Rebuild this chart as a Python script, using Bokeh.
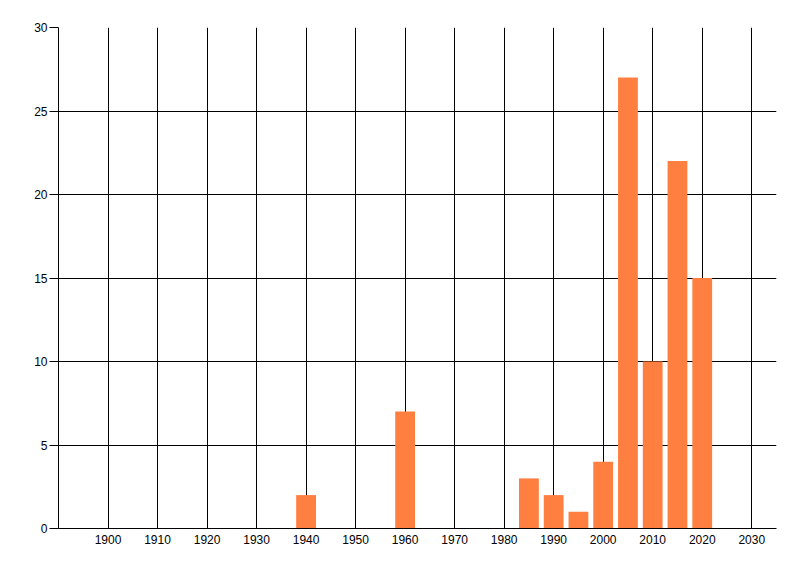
from bokeh.plotting import figure
from bokeh.models import FixedTicker, Range1d
from bokeh.embed import file_html
from bokeh.resources import INLINE

# data
years = [1940, 1960, 1985, 1990, 1995, 2000, 2005, 2010, 2015, 2020]
counts = [2, 7, 3, 2, 1, 4, 27, 10, 22, 15]
x_ticks = [1900, 1910, 1920, 1930, 1940, 1950, 1960, 1970, 1980, 1990, 2000, 2010, 2020, 2030]
y_ticks = [0, 5, 10, 15, 20, 25, 30]

p = figure(width=784, height=560, output_backend="svg", toolbar_location=None,
           x_range=Range1d(1890, 2035), y_range=Range1d(0, 30),
           min_border_left=58, min_border_right=8, min_border_top=27, min_border_bottom=32)
p.outline_line_color = None
p.background_fill_color = "white"
p.border_fill_color = "white"

p.vbar(x=years, top=counts, bottom=0, width=4, fill_color="#ff7f41", line_color=None)

# axes
p.xaxis.ticker = FixedTicker(ticks=x_ticks)
p.yaxis.ticker = FixedTicker(ticks=y_ticks)
for ax in [p.xaxis, p.yaxis]:
    ax.axis_line_color = "black"
    ax.axis_line_width = 1
    ax.minor_tick_line_color = None
    ax.major_label_text_font = "Liberation Sans"
    ax.major_label_text_font_size = "12px"
    ax.major_label_text_color = "black"
p.xaxis.major_tick_line_color = None
p.xaxis.major_tick_out = 0
p.xaxis.major_tick_in = 0
p.xaxis.major_label_standoff = 6
p.yaxis.major_tick_out = 9
p.yaxis.major_tick_in = 0
p.yaxis.major_tick_line_color = "black"
p.yaxis.major_label_standoff = 2

# grid
p.grid.grid_line_color = "black"
p.grid.grid_line_alpha = 1.0
p.grid.grid_line_width = 1
p.xgrid.ticker = FixedTicker(ticks=x_ticks)
p.ygrid.ticker = FixedTicker(ticks=y_ticks)

open("out.html", "w").write(file_html(p, INLINE))
